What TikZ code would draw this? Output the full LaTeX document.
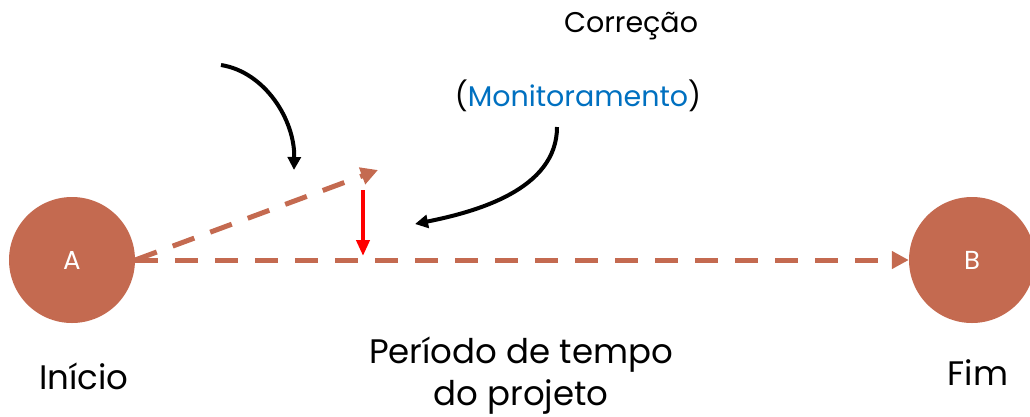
\documentclass[tikz,border=0pt]{standalone}
\usepackage{fontspec}
\setmainfont{Poppins}
\usetikzlibrary{arrows.meta}
\definecolor{brownc}{RGB}{196,106,80}
\definecolor{bluec}{RGB}{0,112,192}
\begin{document}
\begin{tikzpicture}[x=1pt,y=-1pt,
  circ/.style={circle,fill=brownc,minimum size=126pt,inner sep=0pt,text=white,font=\fontsize{26}{28}\selectfont},
  dashline/.style={draw=brownc,line width=5pt,dash pattern=on 23pt off 17pt,-{Triangle[length=17pt,width=17pt]}},
  blackarrow/.style={line width=4pt,-{Triangle[length=13pt,width=13pt]}},
  redarrow/.style={draw=red,line width=4pt,-{Triangle[length=16pt,width=13pt]}},
  lbl/.style={align=center,font=\fontsize{34}{42}\selectfont},
  toplbl/.style={font=\fontsize{28.5}{32}\selectfont}]
\useasboundingbox (0,0) rectangle (1030,416);
\node[circ] (A) at (72,260) {A};
\node[circ] (B) at (972,260) {B};
\coordinate (P) at (378,170);
\coordinate (Rt) at (363,190);
\coordinate (Rb) at (363,256);
\coordinate (C1s) at (221,65);
\coordinate (C1e) at (294,170);
\coordinate (C2s) at (557,127);
\coordinate (C2e) at (415,224);
\draw[dashline] (A.east) -- (B.west);
\draw[dashline] (A.east) -- (P);
\draw[redarrow] (Rt) -- (Rb);
\draw[blackarrow] (C1s) .. controls (265,72) and (295,120) .. (C1e);
\draw[blackarrow] (C2s) .. controls (557,190) and (475,212) .. (C2e);
\node[toplbl] (corr) at (631,26) {Correção};
\node[toplbl] (mon) at (578,96) {(\textcolor{bluec}{Monitoramento})};
\node[lbl] (ini) at (84,376) {Início};
\node[lbl] (per) at (521,376) {Período de tempo\\do projeto};
\node[lbl] (fim) at (978,373) {Fim};
\end{tikzpicture}
\end{document}
